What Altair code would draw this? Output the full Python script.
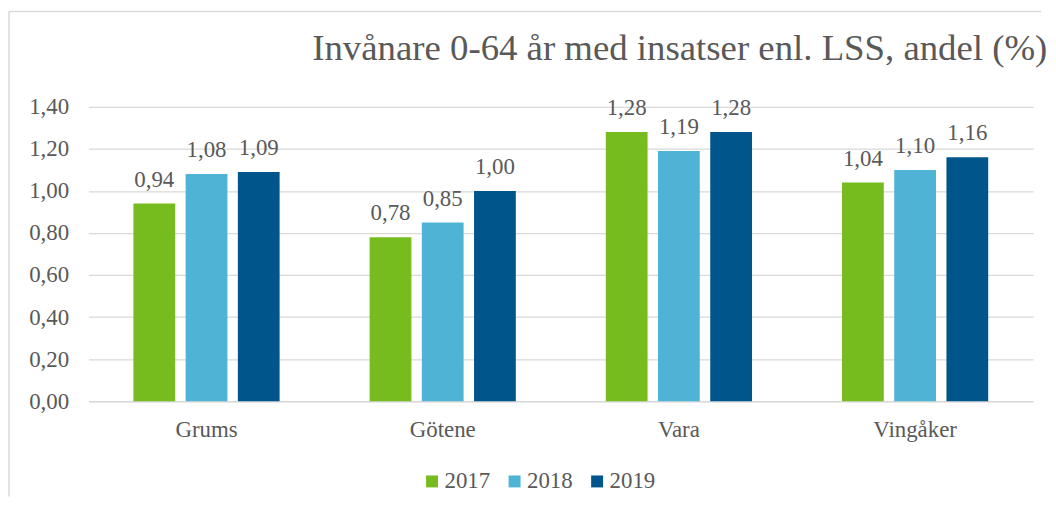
import altair as alt
import pandas as pd

municipalities = ["Grums", "Götene", "Vara", "Vingåker"]
years = ["2017", "2018", "2019"]
v2017 = [0.94, 0.78, 1.28, 1.04]
v2018 = [1.08, 0.85, 1.19, 1.10]
v2019 = [1.09, 1.00, 1.28, 1.16]
y_ticks = [0, 0.2, 0.4, 0.6, 0.8, 1.0, 1.2, 1.4]
colors = ["#77BC1F", "#4FB3D6", "#00558A"]
title_text = "Invånare 0-64 år med insatser enl. LSS, andel (%)"

rows = []
for yr, vals in zip(years, [v2017, v2018, v2019]):
    for m, v in zip(municipalities, vals):
        rows.append({"kommun": m, "year": yr, "value": v,
                     "label": f"{v:.2f}".replace(".", ",")})
df = pd.DataFrame(rows)

FONT = "Liberation Serif"
TXT = "#595959"
GRID = "#D9D9D9"

x_enc = alt.X("kommun:N", sort=municipalities,
              scale=alt.Scale(paddingInner=0.381, paddingOuter=0.19),
              axis=alt.Axis(title=None, labelAngle=0, ticks=False, domain=True,
                            domainColor=GRID, domainWidth=1.5, grid=False,
                            labelFont=FONT, labelFontSize=23, labelColor=TXT,
                            labelPadding=18))
xo_enc = alt.XOffset("year:N", sort=years,
                     scale=alt.Scale(paddingInner=0.2, paddingOuter=0))
y_enc = alt.Y("value:Q", scale=alt.Scale(domain=[0, 1.4], nice=False),
              axis=alt.Axis(title=None, values=y_ticks, domain=False, ticks=False,
                            gridColor=GRID, gridWidth=1.3,
                            labelExpr="replace(format(datum.value, '.2f'), '.', ',')",
                            labelFont=FONT, labelFontSize=23, labelColor=TXT,
                            labelPadding=20))

base = alt.Chart(df)

bars = base.mark_bar().encode(
    x=x_enc, xOffset=xo_enc, y=y_enc,
    color=alt.Color("year:N", sort=years,
                    scale=alt.Scale(domain=years, range=colors),
                    legend=alt.Legend(title=None, orient="none", legendX=334, legendY=365,
                                      direction="horizontal", symbolType="square",
                                      symbolSize=144, symbolStrokeWidth=0,
                                      labelFont=FONT, labelFontSize=23, labelColor=TXT,
                                      labelOffset=1, columnPadding=13, padding=0)),
)

labels = base.mark_text(dy=-17, baseline="alphabetic", font=FONT, fontSize=23,
                        color=TXT).encode(
    x=alt.X("kommun:N", sort=municipalities), xOffset=alt.XOffset("year:N", sort=years),
    y="value:Q", text="label:N")

frame_df = pd.DataFrame({"f": [0]})
frame_left = alt.Chart(frame_df).mark_rule(color=GRID, strokeWidth=1.5).encode(
    x=alt.value(-80), y=alt.value(-96), y2=alt.value(392))
frame_top = alt.Chart(frame_df).mark_rule(color=GRID, strokeWidth=1.5).encode(
    x=alt.value(-80), x2=alt.value(958), y=alt.value(-96))

chart = alt.layer(frame_left, frame_top, bars, labels).properties(
    width=950, height=296,
    title=alt.TitleParams(title_text, font=FONT, fontSize=37, fontWeight="normal",
                          color=TXT, anchor="start", dx=225, offset=-87,
                          baseline="alphabetic", frame="group"),
    padding={"left": 0, "top": 1, "right": 0, "bottom": 0},
    background="white",
).configure(font=FONT).configure_view(stroke=None).configure_title(
    font=FONT, fontWeight="normal"
).configure_axis(labelFont=FONT).configure_legend(labelFont=FONT)

chart.save("out.html", embed_options={"renderer": "svg", "actions": False})
